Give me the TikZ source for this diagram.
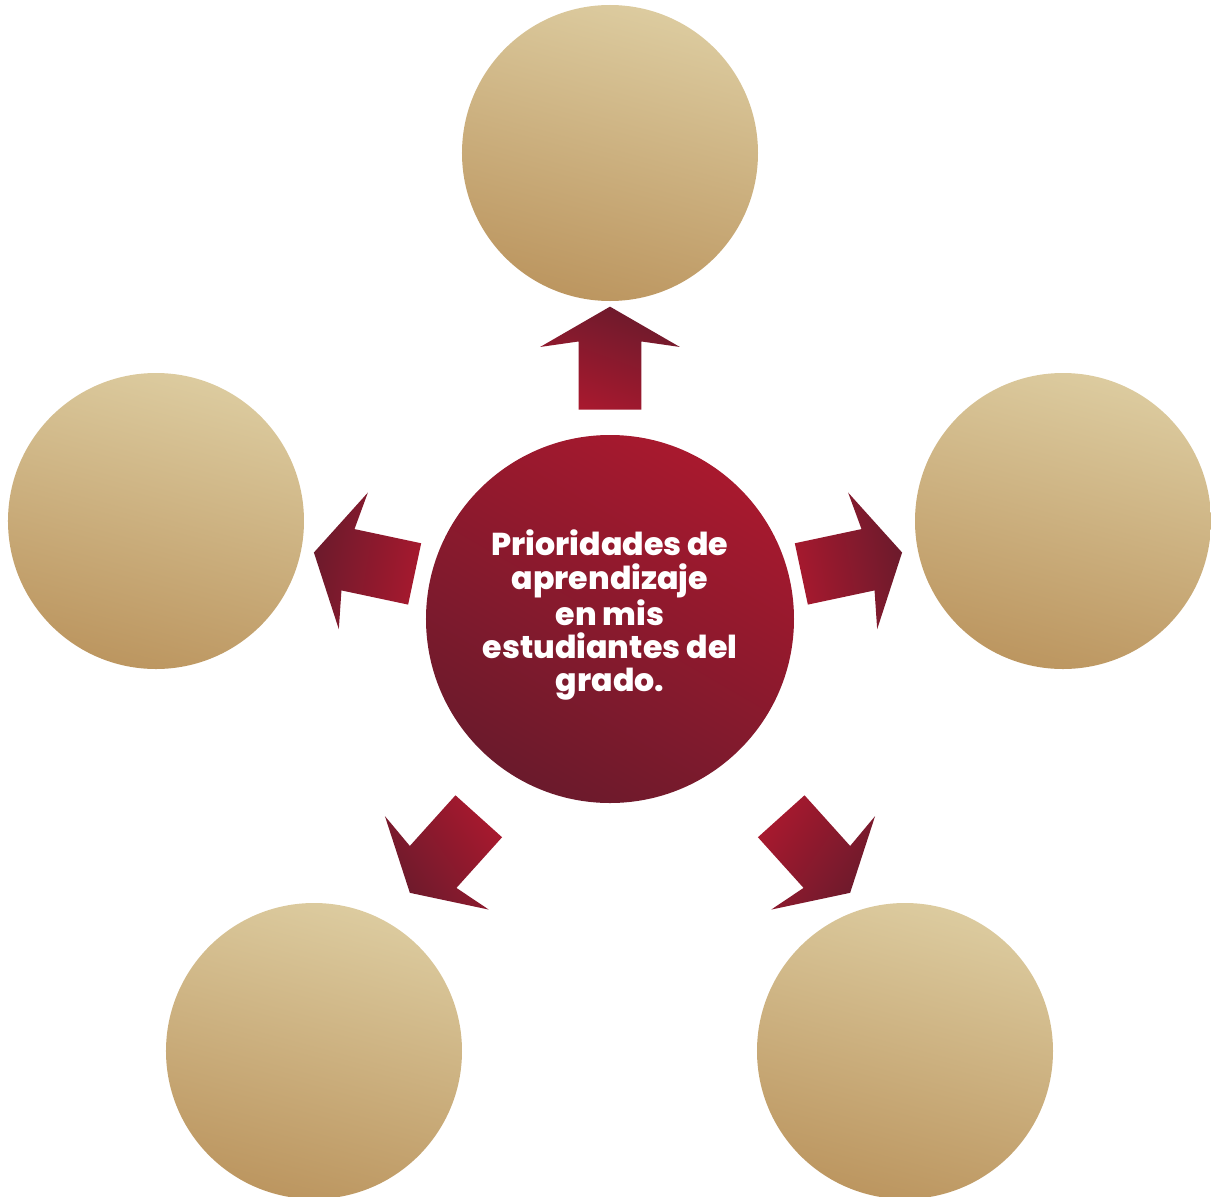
\documentclass[tikz,border=0pt]{standalone}
\usepackage{fontspec}
\setmainfont{Poppins}[BoldFont={Poppins ExtraBold}]
\usetikzlibrary{shapes.arrows}

\definecolor{vino}{HTML}{6B1A2C}
\definecolor{rojo}{HTML}{A8192E}
\definecolor{arena}{HTML}{DCCB9F}
\definecolor{ocre}{HTML}{BC9660}

\begin{document}
\begin{tikzpicture}[
    x=0.2mm, y=0.2mm,
    circulo/.style={circle, minimum size=59.2mm, inner sep=0pt, top color=arena, bottom color=ocre, shading angle=-15},
    centro/.style={circle, minimum size=73.6mm, inner sep=0pt, top color=rojo, bottom color=vino, shading angle=-30, text=white, font=\bfseries\fontsize{18}{19}\selectfont, align=center, text depth=3.2mm},
    flecha/.style={single arrow, minimum width=27.8mm, minimum height=20.6mm, single arrow head extend=7.7mm, single arrow tip angle=120, single arrow head indent=1.1mm, inner xsep=0pt, inner ysep=6.2mm, anchor=tail, top color=vino, bottom color=rojo}
]
\useasboundingbox (-610,-577) rectangle (601,619);

% Central node
\node[centro] (prioridades) at (0,0) {Prioridades de\\aprendizaje\\en mis\\estudiantes del\\grado.};

% Outer circles
\node[circulo] (arriba) at (0,466) {};
\node[circulo] (izquierda) at (-454,98) {};
\node[circulo] (derecha) at (453,98) {};
\node[circulo] (abajoizq) at (-296,-432) {};
\node[circulo] (abajoder) at (295,-432) {};

% Block arrows (gradient darkens towards the tip)
\node[flecha, rotate=90, shading angle=-20] (f-arriba) at (0,209) {};
\node[flecha, rotate=168, shading angle=80] (f-izquierda) at (-195,45) {};
\node[flecha, rotate=12, shading angle=-80] (f-derecha) at (191,45) {};
\node[flecha, rotate=228, shading angle=125] (f-abajoizq) at (-131,-197) {};
\node[flecha, rotate=312, shading angle=-125] (f-abajoder) at (171,-197) {};

\end{tikzpicture}
\end{document}
